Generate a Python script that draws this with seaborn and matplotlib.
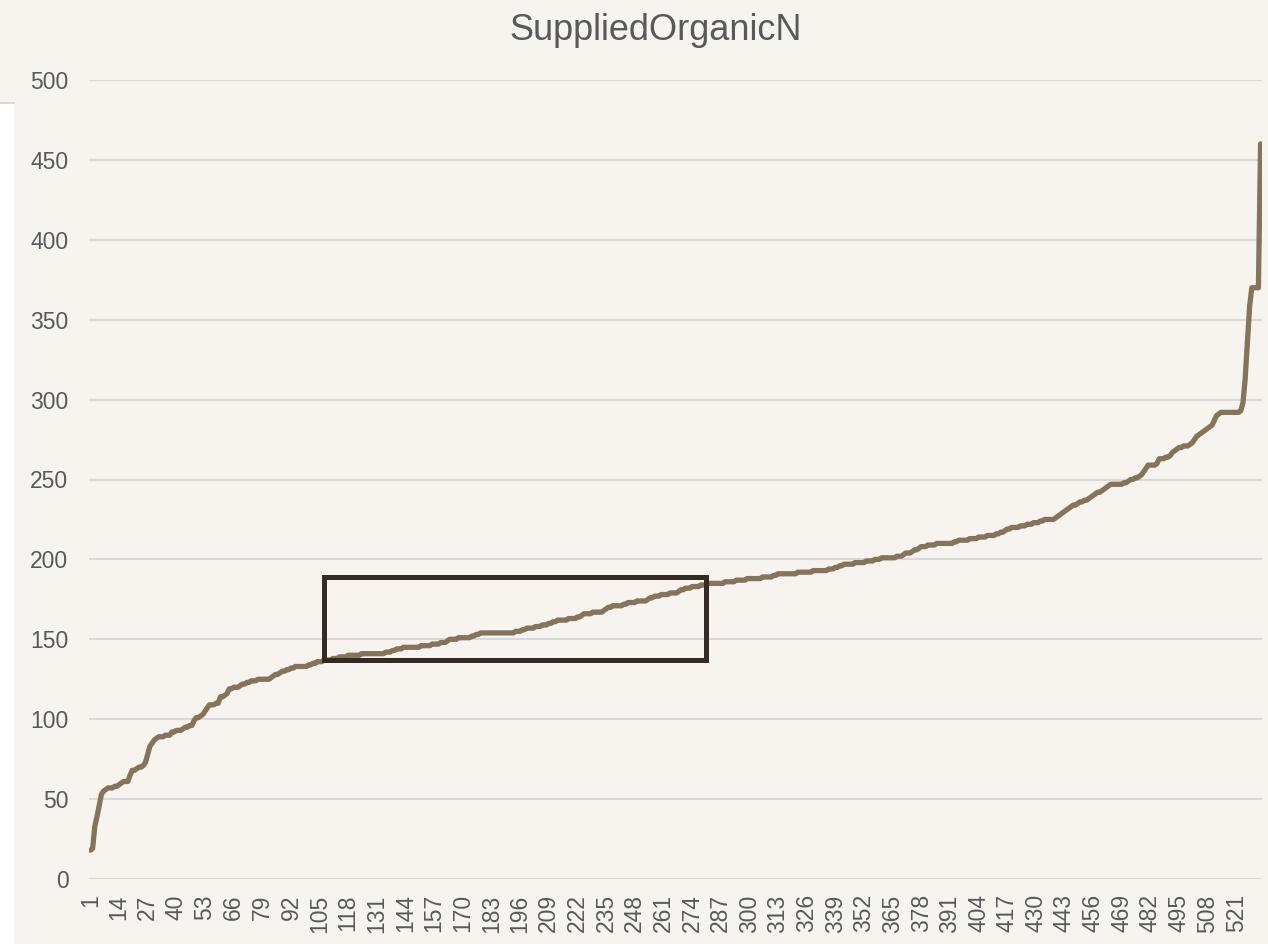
"""Line chart: sorted SuppliedOrganicN values with a highlight box."""

import matplotlib
matplotlib.use("Agg")
import matplotlib.pyplot as plt
from matplotlib.patches import Rectangle
import numpy as np
import seaborn as sns

# Values (sorted ascending), 10 per row
organic_n = [
    18, 19, 33, 39, 46, 53, 55, 56, 57, 57,
    57, 58, 58, 59, 60, 61, 61, 61, 65, 68,
    68, 69, 70, 70, 71, 73, 78, 83, 85, 87,
    88, 89, 89, 89, 90, 90, 90, 92, 92, 93,
    93, 93, 94, 95, 95, 96, 96, 99, 101, 101,
    102, 103, 105, 107, 109, 109, 109, 110, 110, 114,
    114, 115, 116, 119, 119, 120, 120, 120, 121, 122,
    122, 123, 123, 124, 124, 124, 125, 125, 125, 125,
    125, 125, 126, 127, 128, 128, 129, 130, 130, 131,
    131, 132, 132, 133, 133, 133, 133, 133, 133, 134,
    134, 135, 135, 136, 136, 136, 137, 137, 137, 137,
    138, 138, 138, 139, 139, 139, 139, 140, 140, 140,
    140, 140, 140, 141, 141, 141, 141, 141, 141, 141,
    141, 141, 141, 141, 142, 142, 142, 143, 143, 144,
    144, 144, 145, 145, 145, 145, 145, 145, 145, 145,
    146, 146, 146, 146, 146, 147, 147, 147, 147, 148,
    148, 148, 149, 150, 150, 150, 150, 151, 151, 151,
    151, 151, 151, 152, 152, 153, 153, 154, 154, 154,
    154, 154, 154, 154, 154, 154, 154, 154, 154, 154,
    154, 154, 154, 155, 155, 155, 156, 156, 157, 157,
    157, 157, 158, 158, 158, 159, 159, 159, 160, 160,
    161, 161, 162, 162, 162, 162, 162, 163, 163, 163,
    163, 164, 164, 165, 166, 166, 166, 166, 167, 167,
    167, 167, 167, 168, 169, 170, 170, 171, 171, 171,
    171, 171, 172, 172, 173, 173, 173, 173, 174, 174,
    174, 174, 174, 175, 176, 176, 177, 177, 177, 178,
    178, 178, 178, 179, 179, 179, 179, 180, 181, 181,
    182, 182, 182, 183, 183, 183, 183, 184, 184, 184,
    185, 185, 185, 185, 185, 185, 185, 185, 186, 186,
    186, 186, 186, 187, 187, 187, 187, 187, 188, 188,
    188, 188, 188, 188, 188, 189, 189, 189, 189, 189,
    190, 190, 191, 191, 191, 191, 191, 191, 191, 191,
    191, 192, 192, 192, 192, 192, 192, 192, 193, 193,
    193, 193, 193, 193, 193, 194, 194, 194, 195, 195,
    196, 196, 197, 197, 197, 197, 197, 198, 198, 198,
    198, 198, 199, 199, 199, 199, 200, 200, 200, 201,
    201, 201, 201, 201, 201, 201, 202, 202, 202, 203,
    204, 204, 204, 205, 206, 206, 207, 208, 208, 208,
    209, 209, 209, 209, 210, 210, 210, 210, 210, 210,
    210, 210, 211, 211, 212, 212, 212, 212, 212, 213,
    213, 213, 213, 214, 214, 214, 214, 215, 215, 215,
    215, 216, 216, 217, 217, 218, 219, 219, 220, 220,
    220, 220, 221, 221, 221, 222, 222, 222, 223, 223,
    223, 224, 224, 225, 225, 225, 225, 225, 226, 227,
    228, 229, 230, 231, 232, 233, 234, 234, 235, 236,
    236, 237, 237, 238, 239, 240, 241, 242, 242, 243,
    244, 245, 246, 247, 247, 247, 247, 247, 247, 248,
    248, 249, 250, 250, 251, 251, 252, 253, 255, 257,
    259, 259, 259, 259, 260, 263, 263, 263, 264, 264,
    265, 267, 268, 269, 270, 270, 271, 271, 271, 272,
    273, 275, 277, 278, 279, 280, 281, 282, 283, 284,
    287, 290, 291, 292, 292, 292, 292, 292, 292, 292,
    292, 292, 293, 298, 313, 335, 358, 370, 370, 370,
    370, 460,
]
row_index = np.arange(1, len(organic_n) + 1)

x_tick_values = list(range(1, len(organic_n), 13))
y_tick_values = [0, 50, 100, 150, 200, 250, 300, 350, 400, 450, 500]

# Highlight box (row range x value range)
box_rows = [107.1, 280.3]
box_values = [137.0, 188.8]

BG = "#F7F4EF"
LINE = "#86735C"
BOX = "#362B22"
TEXT = "#595959"
GRID = "#D9D9D9"

sns.set_theme(style="white")
plt.rcParams["font.family"] = ["Liberation Sans", "DejaVu Sans"]

fig = plt.figure(figsize=(12.68, 9.44), dpi=100, facecolor=BG)
ax = fig.add_axes([89.3 / 1268, 65 / 944, (1261.7 - 89.3) / 1268, 799 / 944])
ax.set_facecolor(BG)

sns.lineplot(x=row_index, y=organic_n, ax=ax, color=LINE, linewidth=3.8,
             solid_capstyle="round", solid_joinstyle="round")

ax.add_patch(Rectangle((box_rows[0], box_values[0]),
                       box_rows[1] - box_rows[0], box_values[1] - box_values[0],
                       fill=False, edgecolor=BOX, linewidth=3.6, zorder=5))

ax.set_xlim(0.5, len(organic_n) + 0.5)
ax.set_ylim(0, 500)
ax.set_yticks(y_tick_values)
ax.set_xticks(x_tick_values)
ax.set_xticklabels([str(v) for v in x_tick_values], rotation=90)
ax.tick_params(axis="both", length=0, labelsize=16.5, labelcolor=TEXT)
ax.tick_params(axis="y", pad=15)
ax.tick_params(axis="x", pad=11)
ax.yaxis.grid(True, color=GRID, linewidth=1.5)
ax.xaxis.grid(False)
ax.set_axisbelow(True)
for s in ax.spines.values():
    s.set_visible(False)
ax.set_xlabel("")
ax.set_ylabel("")

# white strip on the far left edge
fig.patches.append(Rectangle((0, 0), 14 / 1268, 1 - 103 / 944, transform=fig.transFigure,
                             facecolor="white", edgecolor="none", zorder=0))
fig.lines.append(plt.Line2D([0, 14 / 1268], [1 - 103 / 944] * 2, transform=fig.transFigure,
                            color=GRID, linewidth=1.5))

fig.text(656 / 1268, 1 - 30 / 944, "SuppliedOrganicN", ha="center", va="center",
         fontsize=26, color=TEXT)

fig.savefig("out.png", dpi=100, facecolor=BG)
